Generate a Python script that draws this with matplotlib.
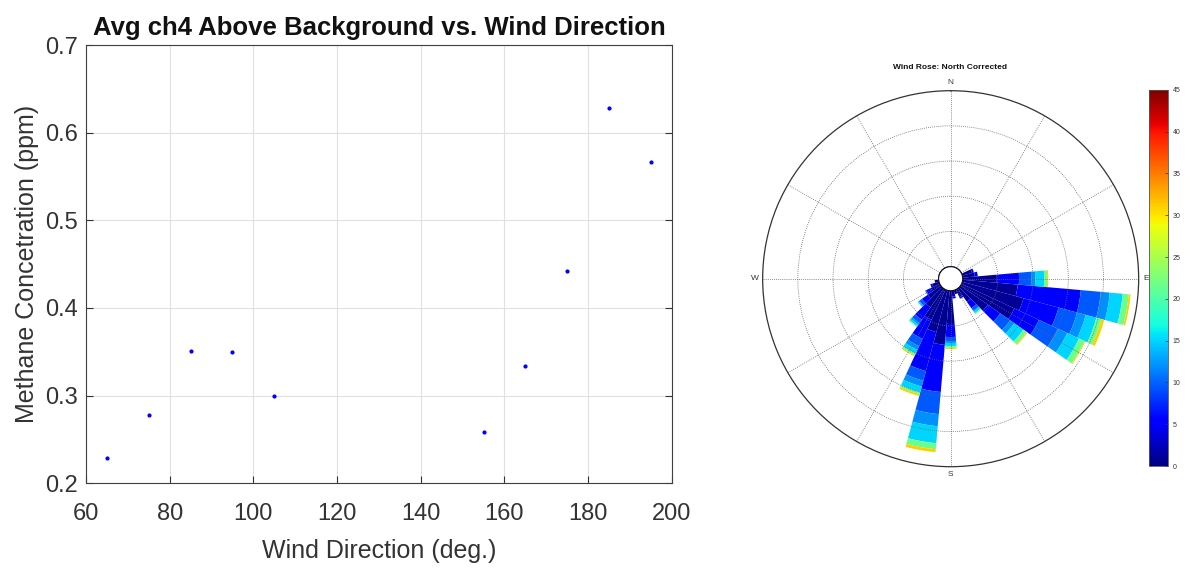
import numpy as np
import matplotlib
matplotlib.use("Agg")
import matplotlib.pyplot as plt
from matplotlib import cm, colors

plt.rcParams['font.family'] = ['Liberation Sans', 'DejaVu Sans']

# ---- scatter data: avg ch4 above background per wind direction bin
wind_dir = [65, 75, 85, 95, 105, 155, 165, 175, 185, 195]
ch4_ppm = [0.229, 0.278, 0.351, 0.350, 0.300, 0.259, 0.334, 0.442, 0.628, 0.566]

# ---- wind rose data (frequency %, stacked by speed class)
rose_dirs = [70, 80, 90, 100, 110, 120, 130, 140, 150, 160,
             170, 180, 190, 200, 210, 220, 230, 240, 250, 260]
speed_vals = [1, 5, 9.5, 12, 15, 21.5, 31]   # colour value of each speed class
freq_c0 = [0.57, 0.69, 1.94, 3.14, 3.60, 3.31, 1.89, 0.91, 0.46, 0.23,
           0.34, 1.89, 3.09, 2.46, 1.89, 1.31, 0.91, 0.57, 0.40, 0.23]
freq_c1 = [0.11, 0.17, 1.26, 3.60, 2.06, 1.54, 0.86, 0.46, 0.11, 0.0,
           0.11, 0.74, 2.69, 2.29, 1.20, 0.86, 0.40, 0.29, 0.11, 0.0]
freq_c2 = [0.0, 0.0, 0.69, 1.14, 1.09, 1.20, 0.69, 0.17, 0.0, 0.0,
           0.0, 0.23, 1.26, 0.57, 0.46, 0.23, 0.17, 0.06, 0.0, 0.0]
freq_c3 = [0.0, 0.0, 0.23, 0.51, 0.51, 0.57, 0.29, 0.06, 0.0, 0.0,
           0.0, 0.11, 0.69, 0.34, 0.23, 0.11, 0.06, 0.0, 0.0, 0.0]
freq_c4 = [0.0, 0.0, 0.51, 0.74, 0.63, 0.74, 0.63, 0.11, 0.0, 0.0,
           0.0, 0.17, 0.97, 0.34, 0.23, 0.11, 0.06, 0.0, 0.0, 0.0]
freq_c5 = [0.0, 0.0, 0.17, 0.34, 0.29, 0.34, 0.23, 0.06, 0.0, 0.0,
           0.0, 0.11, 0.34, 0.11, 0.11, 0.06, 0.0, 0.0, 0.0, 0.0]
freq_c6 = [0.0, 0.0, 0.06, 0.11, 0.17, 0.06, 0.06, 0.0, 0.0, 0.0,
           0.0, 0.06, 0.17, 0.11, 0.06, 0.0, 0.0, 0.0, 0.0, 0.0]
freqs = [freq_c0, freq_c1, freq_c2, freq_c3, freq_c4, freq_c5, freq_c6]
compass = ['N', 'E', 'S', 'W']

txt = '#333333'
fig = plt.figure(figsize=(11.85, 5.69), dpi=100)

# ---------------- left: scatter
ax = fig.add_axes([0.0726, 0.1506, 0.4943, 0.7703])
ax.plot(wind_dir, ch4_ppm, '.', color='blue', markersize=4)
ax.set_xlim(60, 200)
ax.set_ylim(0.2, 0.7)
ax.set_xticks(range(60, 201, 20))
ax.set_yticks([0.2, 0.3, 0.4, 0.5, 0.6, 0.7])
ax.grid(True, color='#e0e0e0', linewidth=0.8)
ax.set_axisbelow(True)
ax.tick_params(direction='in', length=5, labelsize=17, colors=txt,
               top=False, right=True)
ax.tick_params(axis='x', pad=14)
ax.tick_params(axis='y', pad=6)
for s in ax.spines.values():
    s.set_color('#404040')
ax.set_xlabel('Wind Direction (deg.)', fontsize=18, color=txt, labelpad=10)
ax.set_ylabel('Methane Concetration (ppm)', fontsize=18, color=txt, labelpad=4)
ax.set_title('Avg ch4 Above Background vs. Wind Direction', fontsize=18.5,
             fontweight='bold', color='#111111', pad=7)

# ---------------- right: wind rose
rax = fig.add_axes([0.6436, 0.1798, 0.3173, 0.6608], projection='polar')
rax.set_theta_zero_location('N')
rax.set_theta_direction(-1)
rax.set_rorigin(-0.686)
norm = colors.Normalize(0, 45)
theta = np.deg2rad(rose_dirs)
bottom = np.zeros(len(rose_dirs))
for sv, f in zip(speed_vals, freqs):
    f = np.array(f)
    rax.bar(theta, f, width=np.deg2rad(10), bottom=bottom,
            color=cm.jet(norm(sv)), edgecolor='none', linewidth=0)
    bottom += f
rax.set_ylim(0, 10)
rax.set_yticks([2, 4, 6, 8])
rax.set_yticklabels([])
rax.set_thetagrids(range(0, 360, 30), labels=[''] * 12)
rax.grid(True, color='#666666', linestyle=(0, (1, 1.5)), linewidth=0.6)
rax.spines['polar'].set_color('#333333')
rax.spines['polar'].set_linewidth(0.9)
for i, lab in enumerate(compass):
    rax.text(np.deg2rad(90 * i), 10.45, lab, fontsize=6, color=txt,
             ha='center', va='center', clip_on=False)
tt = np.linspace(0, 2 * np.pi, 200)
rax.plot(tt, np.zeros_like(tt), color='#1a1a4a', linewidth=0.9, zorder=5)
fig.text(0.802, 0.882, 'Wind Rose: North Corrected', fontsize=6,
         fontweight='bold', ha='center', va='center', color='#111111')

# colorbar
cax = fig.add_axes([0.9696, 0.181, 0.016, 0.661])
sm = cm.ScalarMappable(norm=norm, cmap='jet')
cb = fig.colorbar(sm, cax=cax, ticks=range(0, 46, 5))
cb.ax.tick_params(direction='in', length=2, labelsize=5, colors=txt, width=0.5)
cb.outline.set_edgecolor('#555555')
cb.outline.set_linewidth(0.6)

fig.savefig('out.png', dpi=100)
